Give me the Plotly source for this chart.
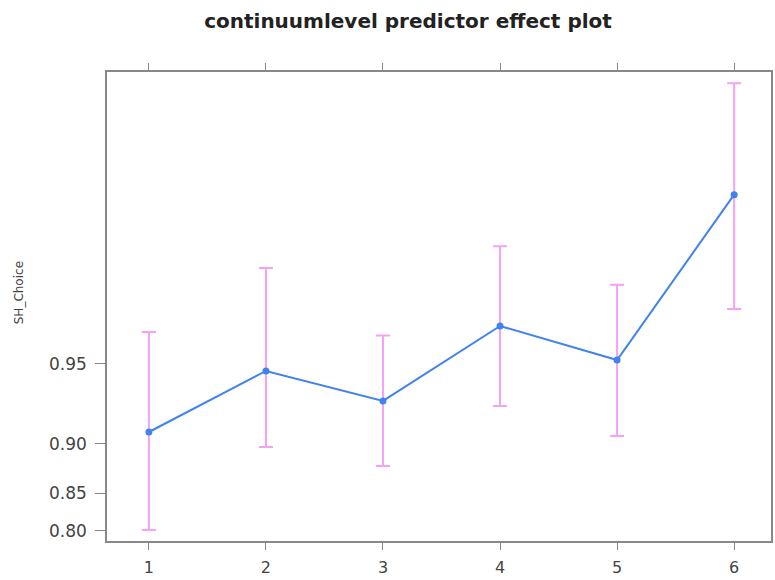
import numpy as np
import plotly.graph_objects as go

levels = [1, 2, 3, 4, 5, 6]
fit = [0.9096, 0.9468, 0.9308, 0.9644, 0.9517, 0.9893]
upper = [0.9624, 0.9790, 0.9612, 0.9828, 0.9755, 0.9962]
lower = [0.801, 0.8974, 0.8799, 0.9277, 0.9064, 0.9695]
ytick_vals = [0.80, 0.85, 0.90, 0.95]
ytick_text = ["0.80", "0.85", "0.90", "0.95"]


def logit(p):
    p = np.asarray(p, dtype=float)
    return np.log(p / (1 - p))


lf = logit(fit)
lu = logit(upper)
ll = logit(lower)

FONT = "DejaVu Sans, Verdana, sans-serif"

fig = go.Figure()
fig.add_trace(go.Scatter(
    x=levels, y=lf, mode="lines+markers",
    line=dict(color="#4183ee", width=2),
    marker=dict(color="#4183ee", size=7),
    error_y=dict(type="data", symmetric=False,
                 array=lu - lf, arrayminus=lf - ll,
                 color="#f6a0f6", thickness=2, width=7),
    showlegend=False,
))

fig.update_layout(
    width=775, height=580,
    margin=dict(l=107, r=2, t=72, b=39),
    paper_bgcolor="white", plot_bgcolor="white",
    title=dict(text="<b>continuumlevel predictor effect plot</b>",
               x=408 / 775, xanchor="center", y=1 - 21 / 580, yanchor="middle",
               font=dict(family=FONT, size=20, color="#222")),
    font=dict(family=FONT, color="#444"),
    annotations=[dict(text="SH_Choice", xref="paper", yref="paper",
                      x=-0.132, y=0.529, xanchor="center", yanchor="middle",
                      textangle=-90, showarrow=False,
                      font=dict(family=FONT, size=12, color="#444"))],
)
fig.update_xaxes(
    range=[0.642, 6.315], tickvals=levels, ticktext=[str(v) for v in levels],
    showgrid=False, zeroline=False,
    showline=True, linecolor="#888", linewidth=1.5, mirror="ticks",
    ticks="outside", ticklen=7, tickcolor="#888",
    ticklabelstandoff=4,
    tickfont=dict(family=FONT, size=16, color="#444"),
)
fig.update_yaxes(
    range=[1.290, 5.673], tickvals=list(logit(ytick_vals)), ticktext=ytick_text,
    showgrid=False, zeroline=False,
    showline=True, linecolor="#888", linewidth=1.5, mirror=True,
    ticks="outside", ticklen=10, tickcolor="#888",
    ticklabelstandoff=5,
    tickfont=dict(family=FONT, size=17, color="#444"),
)

fig.write_html("out.html")
